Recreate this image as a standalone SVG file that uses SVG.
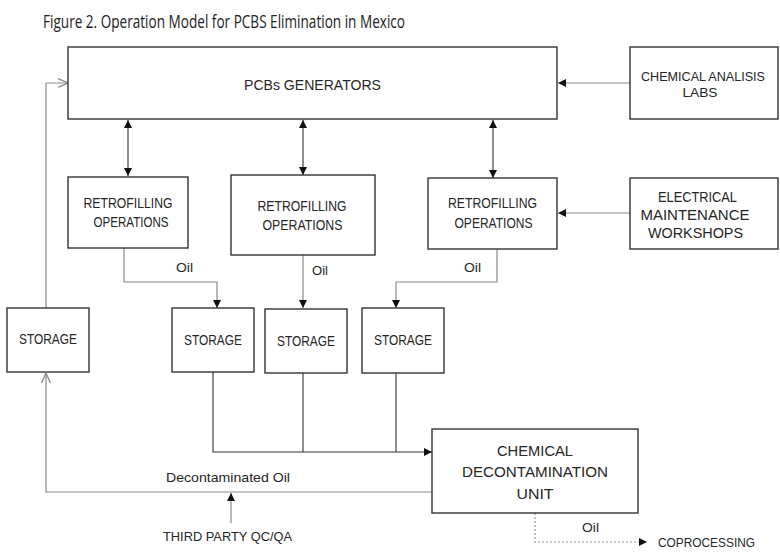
<svg xmlns="http://www.w3.org/2000/svg" width="780" height="558" viewBox="0 0 780 558">
<style>
.box{fill:#fff;stroke:#333;stroke-width:1.4}
.t{font-family:"Liberation Sans",Arial,sans-serif;font-size:14px;fill:#262626;text-anchor:middle}
.s{font-size:13px}
.b{font-size:15px}
.c{fill:none;stroke:#8a8a8a;stroke-width:1.2}
.d{fill:none;stroke:#333;stroke-width:1.1}
.dot{fill:none;stroke:#999;stroke-width:1.2;stroke-dasharray:2 2}
</style>
<defs>
<marker id="ah" viewBox="0 0 10 10" refX="10" refY="5" markerWidth="8" markerHeight="8" markerUnits="userSpaceOnUse" orient="auto-start-reverse"><path d="M0,0L10,5L0,10Z" fill="#111"/></marker>
<marker id="oa" viewBox="0 0 10 10" refX="10" refY="5" markerWidth="11" markerHeight="11" markerUnits="userSpaceOnUse" orient="auto"><path d="M1,1L10,5L1,9" fill="none" stroke="#8a8a8a" stroke-width="1.2"/></marker>
</defs>
<rect width="780" height="558" fill="#fff"/>
<text x="43" y="28" style="font-family:'Open Sans','Liberation Sans',sans-serif;font-size:18px;fill:#222" textLength="362" lengthAdjust="spacingAndGlyphs">Figure 2. Operation Model for PCBS Elimination in Mexico</text>

<g id="connectors">
<line class="c" x1="630" y1="83" x2="558" y2="83" marker-end="url(#ah)"/>
<line class="c" x1="630" y1="213" x2="558" y2="213" marker-end="url(#ah)"/>
<line class="d" x1="128" y1="120" x2="128" y2="176" marker-start="url(#ah)" marker-end="url(#ah)"/>
<line class="d" x1="303" y1="120" x2="303" y2="175" marker-start="url(#ah)" marker-end="url(#ah)"/>
<line class="d" x1="493" y1="120" x2="493" y2="178" marker-start="url(#ah)" marker-end="url(#ah)"/>
<path class="c" d="M124,248V282H217V308" marker-end="url(#ah)"/>
<path class="c" d="M303,255V308" marker-end="url(#ah)"/>
<path class="c" d="M497,249V282H396V308" marker-end="url(#ah)"/>
<path class="d" d="M213,372V452H432" marker-end="url(#ah)"/>
<line class="d" x1="303" y1="373" x2="303" y2="452"/>
<line class="d" x1="396" y1="373" x2="396" y2="452"/>
<path class="c" d="M432,492H46V373" marker-end="url(#oa)"/>
<path class="c" d="M46,308V83H68" marker-end="url(#oa)"/>
<line class="c" x1="231" y1="523" x2="231" y2="493" marker-end="url(#ah)"/>
<path class="dot" d="M535,513V542H647" marker-end="url(#ah)"/>
<text class="t s" x="184.5" y="272" textLength="17" lengthAdjust="spacingAndGlyphs">Oil</text>
<text class="t s" x="320" y="275" textLength="16" lengthAdjust="spacingAndGlyphs">Oil</text>
<text class="t s" x="472.5" y="272" textLength="17" lengthAdjust="spacingAndGlyphs">Oil</text>
<text class="t s" x="228" y="482" textLength="124" lengthAdjust="spacingAndGlyphs">Decontaminated Oil</text>
<text class="t s" x="590.5" y="532" textLength="17" lengthAdjust="spacingAndGlyphs">Oil</text>
</g>

<g id="pcbs"><rect class="box" x="68" y="47" width="489" height="72"/><text class="t b" x="312.5" y="90" textLength="137" lengthAdjust="spacingAndGlyphs">PCBs GENERATORS</text></g>
<g id="labs"><rect class="box" x="630" y="47" width="148" height="72"/><text class="t s" x="703" y="81" textLength="124" lengthAdjust="spacingAndGlyphs">CHEMICAL ANALISIS</text><text class="t s" x="700" y="97" textLength="35" lengthAdjust="spacingAndGlyphs">LABS</text></g>
<g id="retro1"><rect class="box" x="68" y="177" width="120" height="71"/><text class="t" x="128" y="208" textLength="89" lengthAdjust="spacingAndGlyphs">RETROFILLING</text><text class="t" x="131" y="227" textLength="75" lengthAdjust="spacingAndGlyphs">OPERATIONS</text></g>
<g id="retro2"><rect class="box" x="231" y="175" width="144" height="80"/><text class="t" x="302" y="211" textLength="89" lengthAdjust="spacingAndGlyphs">RETROFILLING</text><text class="t" x="302.5" y="230" textLength="80" lengthAdjust="spacingAndGlyphs">OPERATIONS</text></g>
<g id="retro3"><rect class="box" x="428" y="178" width="129" height="71"/><text class="t" x="492.5" y="208" textLength="89" lengthAdjust="spacingAndGlyphs">RETROFILLING</text><text class="t" x="493.5" y="228" textLength="78" lengthAdjust="spacingAndGlyphs">OPERATIONS</text></g>
<g id="workshops"><rect class="box" x="630" y="178" width="148" height="71"/><text class="t" x="697.5" y="202" style="font-size:14.5px" textLength="79" lengthAdjust="spacingAndGlyphs">ELECTRICAL</text><text class="t" x="695" y="220" style="font-size:14.5px" textLength="109" lengthAdjust="spacingAndGlyphs">MAINTENANCE</text><text class="t" x="695.5" y="238" style="font-size:14.5px" textLength="95" lengthAdjust="spacingAndGlyphs">WORKSHOPS</text></g>
<g id="storage0"><rect class="box" x="7" y="308" width="82" height="64"/><text class="t" x="48" y="344" textLength="58" lengthAdjust="spacingAndGlyphs">STORAGE</text></g>
<g id="storage1"><rect class="box" x="172" y="308" width="82" height="64"/><text class="t" x="213" y="345" textLength="58" lengthAdjust="spacingAndGlyphs">STORAGE</text></g>
<g id="storage2"><rect class="box" x="265" y="309" width="82" height="64"/><text class="t" x="306" y="346" textLength="58" lengthAdjust="spacingAndGlyphs">STORAGE</text></g>
<g id="storage3"><rect class="box" x="362" y="308" width="82" height="65"/><text class="t" x="403" y="345" textLength="58" lengthAdjust="spacingAndGlyphs">STORAGE</text></g>
<g id="cdu"><rect class="box" x="432" y="429" width="206" height="84"/><text class="t" x="535" y="456" style="font-size:15.5px" textLength="76" lengthAdjust="spacingAndGlyphs">CHEMICAL</text><text class="t" x="535" y="477" style="font-size:15.5px" textLength="146" lengthAdjust="spacingAndGlyphs">DECONTAMINATION</text><text class="t" x="535" y="499" style="font-size:15.5px" textLength="37" lengthAdjust="spacingAndGlyphs">UNIT</text></g>
<g id="thirdparty"><text class="t s" x="227.5" y="541" textLength="129" lengthAdjust="spacingAndGlyphs">THIRD PARTY QC/QA</text></g>
<g id="coprocessing"><text class="t s" x="658" y="547" style="text-anchor:start" textLength="97" lengthAdjust="spacingAndGlyphs">COPROCESSING</text></g>
</svg>
